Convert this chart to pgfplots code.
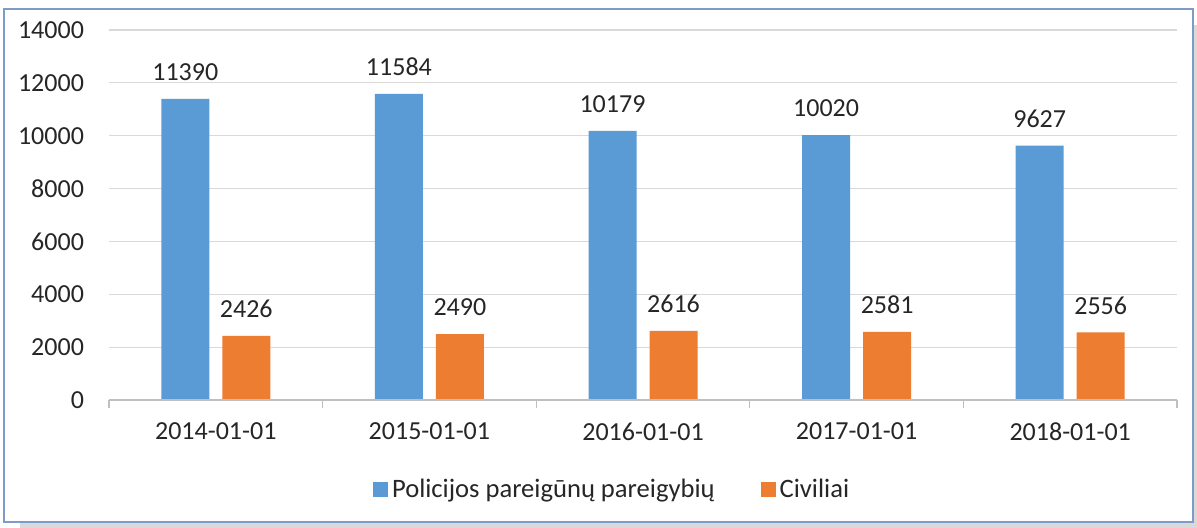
\documentclass[border=0pt]{standalone}
\usepackage{pgfplots}
\pgfplotsset{compat=1.18}
\usepackage{fontspec}
\setmainfont{Carlito}
\definecolor{cblue}{HTML}{5B9BD5}
\definecolor{corange}{HTML}{ED7D31}
\definecolor{frame}{HTML}{7F9CC8}
\definecolor{txt}{HTML}{262626}
\begin{document}
\begin{tikzpicture}
\useasboundingbox (0,0) rectangle (598.5pt,264pt);
\fill[black!15] (10pt,0pt) rectangle (598.5pt,251.5pt);
\fill[white] (2pt,3pt) rectangle (596.5pt,259.5pt);
\draw[frame, line width=0.9pt] (2pt,3pt) rectangle (596.5pt,259.5pt);
\begin{axis}[
  at={(54.5pt,64pt)}, anchor=south west,
  scale only axis, width=534pt, height=185pt,
  ybar=6.5pt, bar width=24pt,
  xmin=-0.5, xmax=4.5, ymin=0, ymax=14000,
  xtick={0,1,2,3,4},
  xticklabels={2014-01-01,2015-01-01,2016-01-01,2017-01-01,2018-01-01},
  ytick={0,2000,...,14000},
  scaled y ticks=false,
  /pgf/number format/1000 sep={},
  /pgf/number format/assume math mode=true,
  axis line style={draw=none},
  major tick length=0pt,
  tick pos=left,
  ymajorgrids, grid style={draw=black!15, line width=0.6pt},
  extra x ticks={-0.5,0.5,1.5,2.5,3.5,4.5},
  extra x tick labels={},
  extra x tick style={major tick length=4pt, tick align=outside, tick style={draw=black!25, line width=0.6pt}, grid=none},
  font=\fontsize{13}{15}\selectfont,
  tick label style={font=\fontsize{13}{15}\selectfont, text=txt},
  yticklabel style={xshift=-9pt},
  xticklabel style={yshift=-8pt},
  nodes near coords,
  nodes near coords style={font=\fontsize{13}{15}\selectfont, text=txt, yshift=5.5pt},
  legend style={at={(0.472,-0.243)}, anchor=center, draw=none, legend columns=2,
    font=\fontsize{13.3}{15}\selectfont, text=txt,
    /tikz/every even column/.append style={column sep=21pt}},
  legend image code/.code={\fill[#1] (0pt,-3.75pt) rectangle (7.5pt,3.75pt);},
  clip=false,
]
\addplot[fill=cblue, draw=none] coordinates {(0,11390) (1,11584) (2,10179) (3,10020) (4,9627)};
\addplot[fill=corange, draw=none] coordinates {(0,2426) (1,2490) (2,2616) (3,2581) (4,2556)};
\draw[black!25, line width=0.6pt] (axis cs:-0.5,0) -- (axis cs:4.5,0);
\legend{Policijos pareigūnų pareigybių, Civiliai}
\end{axis}
\end{tikzpicture}
\end{document}
